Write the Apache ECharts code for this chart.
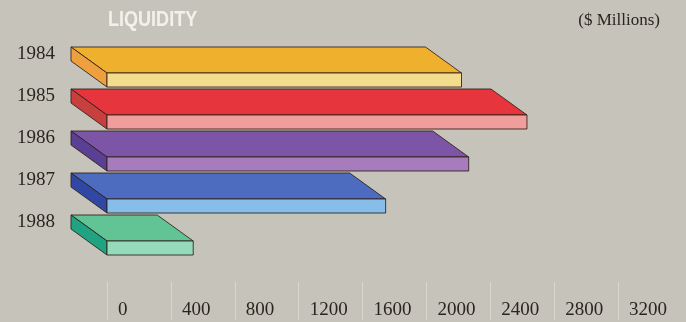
<!DOCTYPE html>
<html>
<head>
<meta charset="utf-8">
<script src="https://cdn.jsdelivr.net/npm/echarts@6/dist/echarts.min.js"></script>
<style>
html,body{margin:0;padding:0;background:#c6c3ba;}
#main{width:686px;height:322px;}
</style>
</head>
<body>
<div id="main"></div>
<script>
const years = ['1984', '1985', '1986', '1987', '1988'];
const liquidity = [2220, 2630, 2265, 1745, 540];
const xTickLabels = ['0', '400', '800', '1200', '1600', '2000', '2400', '2800', '3200'];
const titleText = 'LIQUIDITY';
const unitText = '($ Millions)';

const topColors = ['#efb02e', '#e6353c', '#7c55a6', '#4d6cbf', '#62c395'];
const frontColors = ['#f4dc8e', '#ef9e9c', '#a67cbc', '#86bde9', '#95dbbb'];
const capColors = ['#ee9f3e', '#c8403e', '#5a3f94', '#3048a4', '#1fa381'];

const DX = 36, DY = 26, TH = 14, OFF = 7;
const edge = 'rgba(45,30,25,0.85)';

const chart = echarts.init(document.getElementById('main'), null, {renderer: 'canvas'});

function renderItem(params, api) {
  const idx = api.value(1);
  const p0 = api.coord([0, idx]);
  const p1 = api.coord([api.value(0), idx]);
  const y0 = p0[1] - OFF;
  const xl = p0[0], xr = p1[0];
  const i = params.dataIndex;
  const st = (c) => ({fill: c, stroke: edge, lineWidth: 1, lineJoin: 'round'});
  return {
    type: 'group',
    children: [
      {type: 'polygon', shape: {points: [[xl - DX, y0], [xr - DX, y0], [xr, y0 + DY], [xl, y0 + DY]]}, style: st(topColors[i])},
      {type: 'polygon', shape: {points: [[xl - DX, y0], [xl, y0 + DY], [xl, y0 + DY + TH], [xl - DX, y0 + TH]]}, style: st(capColors[i])},
      {type: 'rect', shape: {x: xl, y: y0 + DY, width: xr - xl, height: TH}, style: st(frontColors[i])}
    ]
  };
}

chart.setOption({
  backgroundColor: '#c6c3ba',
  animation: false,
  grid: [
    {left: 107, right: 68, top: 33, height: 210},
    {left: 107, right: 68, top: 282, height: 38}
  ],
  xAxis: [
    {gridIndex: 0, type: 'value', min: 0, max: 3200, interval: 400, show: false},
    {gridIndex: 1, type: 'value', min: 0, max: 3200, interval: 400,
      axisLine: {show: false}, axisTick: {show: false},
      splitLine: {show: true, lineStyle: {color: '#d9d6ce', width: 1}},
      axisLabel: {
        inside: true, margin: 10, align: 'left', verticalAlign: 'middle',
        padding: [0, 0, 0, 11], showMaxLabel: true, showMinLabel: true,
        fontFamily: 'Liberation Serif', fontSize: 19, color: '#2a2520',
        formatter: (v) => xTickLabels[Math.round(v / 400)]
      }
    }
  ],
  yAxis: [
    {gridIndex: 0, type: 'category', data: years, inverse: true,
      axisLine: {show: false}, axisTick: {show: false}, splitLine: {show: false},
      axisLabel: {margin: 52, fontFamily: 'Liberation Serif', fontSize: 19, color: '#2a2520'}
    },
    {gridIndex: 1, type: 'value', show: false, min: 0, max: 1}
  ],
  series: [{
    type: 'custom',
    xAxisIndex: 0, yAxisIndex: 0,
    renderItem: renderItem,
    encode: {x: 0, y: 1},
    data: liquidity.map((v, i) => [v, i])
  }],
  graphic: [
    {type: 'text', x: 108, y: 9, scaleX: 0.82,
      style: {text: titleText, fill: '#f3f1ec', font: 'bold 22px "Liberation Sans"', textAlign: 'left', textVerticalAlign: 'top'}},
    {type: 'text', right: 26, top: 12,
      style: {text: unitText, fill: '#2a2520', font: '17px "Liberation Serif"'}}
  ]
});
</script>
</body>
</html>
